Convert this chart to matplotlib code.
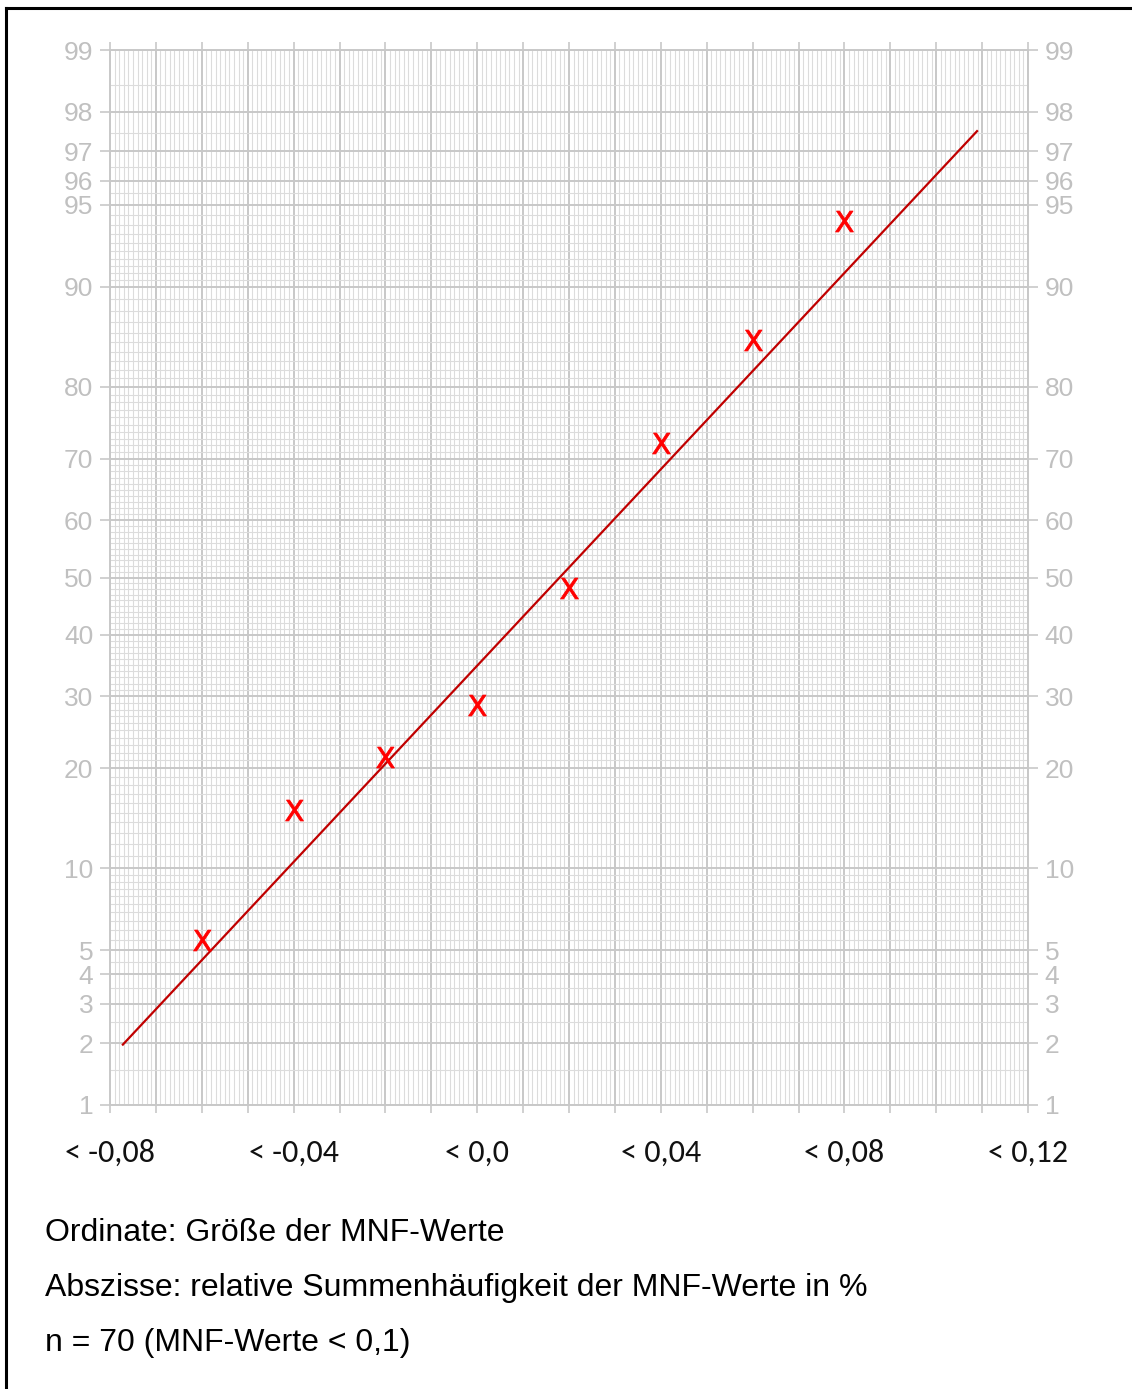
import numpy as np
import matplotlib
matplotlib.use("Agg")
import matplotlib.pyplot as plt
from matplotlib.lines import Line2D
from statistics import NormalDist

# data
mnf_class = [-0.06, -0.04, -0.02, 0.0, 0.02, 0.04, 0.06, 0.08]
cum_pct = [5.5, 15.3, 21.4, 28.7, 48.2, 72.3, 85.3, 94.2]

# fitted line, end points
fit_x = [-0.0772, 0.1089]
fit_pct = [1.97, 97.55]

x_ticks = [-0.08, -0.07, -0.06, -0.05, -0.04, -0.03, -0.02, -0.01, 0.0, 0.01,
           0.02, 0.03, 0.04, 0.05, 0.06, 0.07, 0.08, 0.09, 0.10, 0.11, 0.12]
x_labels = ["< -0,08", "", "", "", "< -0,04", "", "", "", "< 0,0", "",
            "", "", "< 0,04", "", "", "", "< 0,08", "", "", "", "< 0,12"]
y_ticks = [1, 2, 3, 4, 5, 10, 20, 30, 40, 50, 60, 70, 80, 90, 95, 96, 97, 98, 99]

notes = ["Ordinate: Größe der MNF-Werte",
         "Abszisse: relative Summenhäufigkeit der MNF-Werte in %",
         "n = 70 (MNF-Werte < 0,1)"]

# probability paper scale
nd = NormalDist()
fwd = np.vectorize(lambda p: nd.inv_cdf(min(max(p, 1e-4), 100 - 1e-4) / 100.0), otypes=[float])
inv = np.vectorize(lambda z: nd.cdf(z) * 100.0, otypes=[float])

W, H = 1132, 1389
fig = plt.figure(figsize=(W / 100, H / 100), dpi=100)
ax = fig.add_axes([110 / W, 1 - 1105 / H, 918 / W, 1055 / H])
ax.set_yscale("function", functions=(fwd, inv))
ax.set_xlim(-0.08, 0.12)
ax.set_ylim(1, 99)

GRID_MAJ = "#c8c8c8"
GRID_MIN = "#dcdcdc"

# minor grid
x_minor = np.round(np.arange(-0.08, 0.1201, 0.001), 4)
y_minor = list(np.arange(1, 10, 0.5)) + list(range(10, 90)) + list(np.arange(90, 99.01, 0.5))
ax.set_xticks(x_minor, minor=True)
ax.set_yticks(y_minor, minor=True)
ax.grid(which="minor", color=GRID_MIN, lw=0.8)
ax.set_xticks(x_ticks)
ax.set_xticklabels(x_labels)
ax.set_yticks(y_ticks)
ax.set_yticklabels([str(v) for v in y_ticks])
ax.grid(which="major", color=GRID_MAJ, lw=1.4)
ax.set_axisbelow(True)

ax.tick_params(which="minor", length=0)
ax.tick_params(axis="x", which="major", top=True, length=6, width=1.2, color=GRID_MAJ,
               pad=18, labelsize=23, labelcolor="#111111")
ax.tick_params(axis="y", which="major", right=True, labelright=True, length=7, width=1.2,
               color=GRID_MAJ, pad=5, labelsize=19, labelcolor="#c0c0c0")
for lab in ax.get_xticklabels():
    lab.set_family(["Carlito", "Open Sans", "DejaVu Sans"])
for lab in ax.get_yticklabels():
    lab.set_family(["Liberation Sans Narrow", "Liberation Sans", "DejaVu Sans"])
for side in ["left", "right", "top", "bottom"]:
    ax.spines[side].set_color(GRID_MAJ)
    ax.spines[side].set_linewidth(1.4)

ax.plot(fit_x, fit_pct, color="#c00000", lw=1.6, zorder=3)
ax.plot(mnf_class, cum_pct, ls="none", marker=r"$\mathsf{X}$", ms=15, mew=0.6,
        color="#ff0000", zorder=4)

for i, t in enumerate(notes):
    fig.text(45 / W, 1 - (1233 + 55 * i) / H, t, fontsize=23, ha="left", va="center",
             family=["Liberation Sans", "DejaVu Sans"], color="black")

# frame (left and top edges)
fig.add_artist(Line2D([6 / W, 6 / W], [0, 1 - 8 / H], transform=fig.transFigure,
                      color="black", lw=2.2))
fig.add_artist(Line2D([6 / W, 1], [1 - 8 / H, 1 - 8 / H], transform=fig.transFigure,
                      color="black", lw=2.2))

fig.savefig("out.png", dpi=100)
